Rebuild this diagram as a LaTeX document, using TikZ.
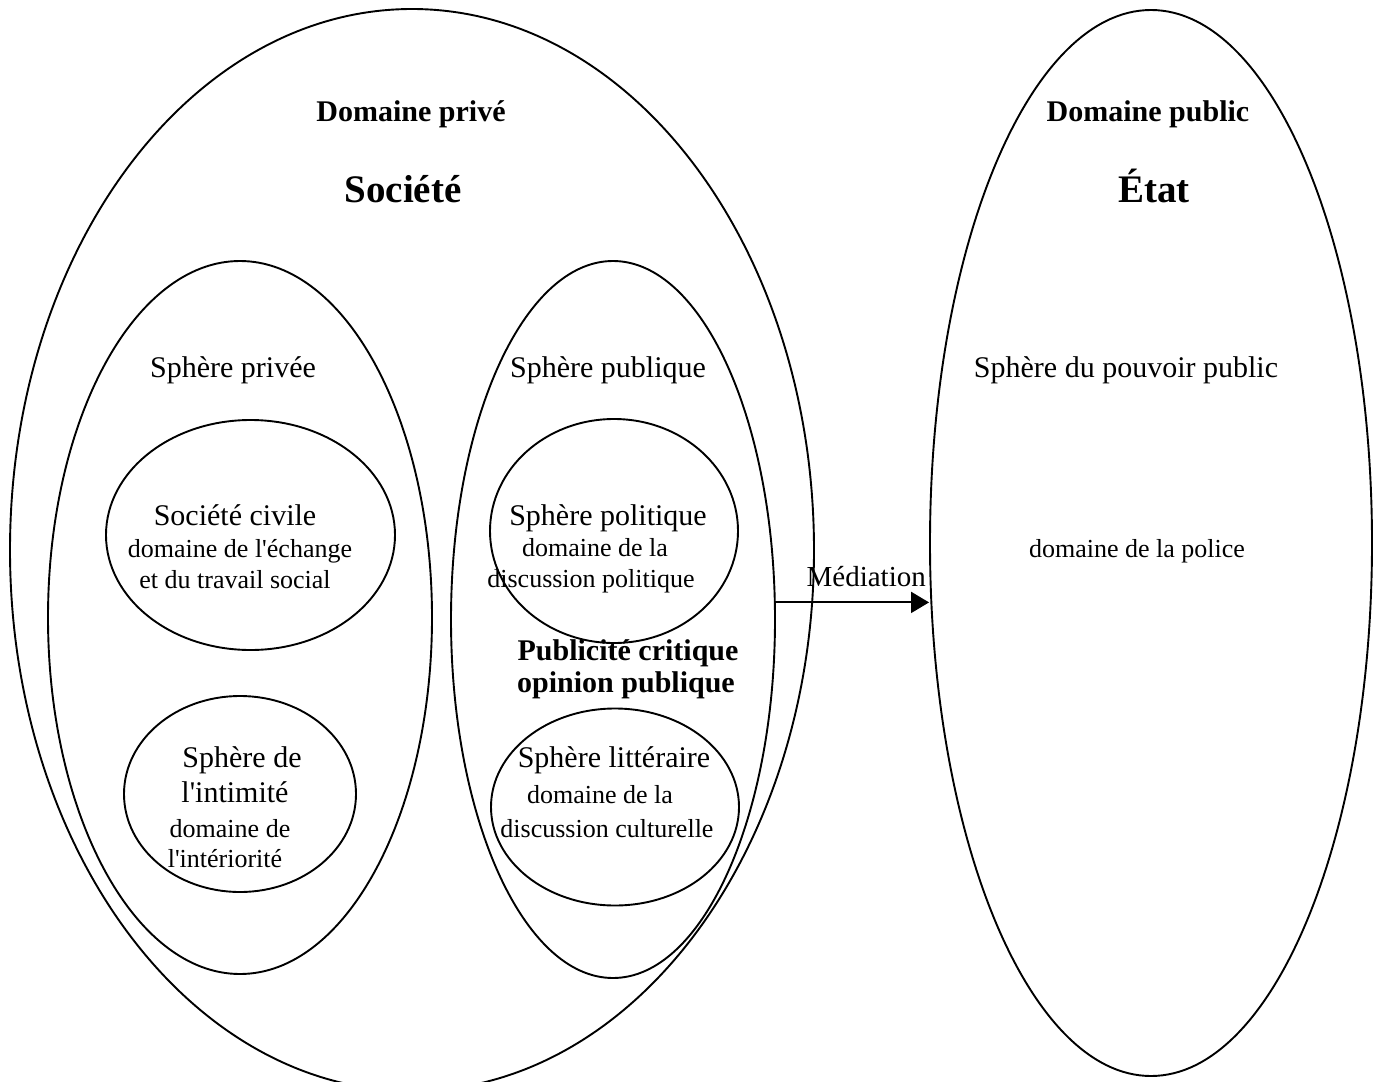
\documentclass[tikz,border=0pt]{standalone}
\usepackage{fontspec}
\setmainfont{Liberation Serif}
\usetikzlibrary{shapes.geometric, arrows.meta}

\newcommand{\apo}{\textquotesingle}

\tikzset{
  sphere/.style={draw, ellipse, inner sep=0pt, line width=1.9pt},
  grand/.style={anchor=base, inner sep=0pt, font=\fontsize{39}{46}\selectfont\bfseries},
  titre/.style={anchor=base, inner sep=0pt, font=\fontsize{30}{36}\selectfont\bfseries},
  libelle/.style={anchor=base, inner sep=0pt, font=\fontsize{30}{36}\selectfont},
  petit/.style={anchor=base, inner sep=0pt, font=\fontsize{26}{31}\selectfont}
}

\begin{document}
\begin{tikzpicture}[x=1pt, y=-1pt, >={Triangle[length=18pt,width=21pt]}]
            \useasboundingbox (0,0) rectangle (1374,1082);

            % les ellipses
            \node[sphere, minimum width=804pt, minimum height=1082pt] (societe) at (412,550) {};
            \node[sphere, minimum width=442pt, minimum height=1066pt] (etat) at (1151,543) {};
            \node[sphere, minimum width=384pt, minimum height=713pt] (privee) at (240,617.5) {};
            \node[sphere, minimum width=324pt, minimum height=717pt] (publique) at (613,619.5) {};
            \node[sphere, minimum width=289pt, minimum height=230pt] (civile) at (250.5,535) {};
            \node[sphere, minimum width=232pt, minimum height=196pt] (intimite) at (240,794) {};
            \node[sphere, minimum width=248pt, minimum height=224pt] (politique) at (614,531) {};
            \node[sphere, minimum width=248pt, minimum height=197pt] (litteraire) at (615,807) {};

            % textes
            \node[titre] (dprive) at (411,121) {Domaine privé};
            \node[grand] (tsociete) at (403,202) {Société};
            \node[titre] (dpublic) at (1148,121) {Domaine public};
            \node[grand] (tetat) at (1154,202) {État};

            \node[libelle] (tprivee) at (233,377) {Sphère privée};
            \node[libelle] (tpublique) at (608,377) {Sphère publique};
            \node[libelle] (tpouvoir) at (1126,377) {Sphère du pouvoir public};

            \node[libelle] (tcivile) at (235,525) {Société civile};
            \node[petit] (echange) at (240,557) {domaine de l\apo échange};
            \node[petit] (travail) at (235,588) {et du travail social};

            \node[libelle] (tpolitique) at (608,525) {Sphère politique};
            \node[petit] (dpol) at (595,556) {domaine de la};
            \node[petit] (discpol) at (591,587) {discussion politique};

            \node[titre] (critique) at (628,660) {Publicité critique};
            \node[titre] (opinion) at (626,692) {opinion publique};

            \node[libelle] (tintimite1) at (242,767) {Sphère de};
            \node[libelle] (tintimite2) at (235,802) {l\apo intimité};
            \node[petit] (interieur1) at (230,837) {domaine de};
            \node[petit] (interieur2) at (225,867) {l\apo intériorité};

            \node[libelle] (tlitteraire) at (614,767) {Sphère littéraire};
            \node[petit] (dlit) at (600,803) {domaine de la};
            \node[petit] (disclit) at (607,837) {discussion culturelle};

            \node[petit] (police) at (1137,557) {domaine de la police};

            \draw[->, line width=2pt] (publique.6) -- (publique.6 -| etat.west)
                node[pos=0.59, above=15pt, inner sep=0pt, font=\fontsize{29}{35}\selectfont] (mediation) {Médiation};
        \end{tikzpicture}
\end{document}
